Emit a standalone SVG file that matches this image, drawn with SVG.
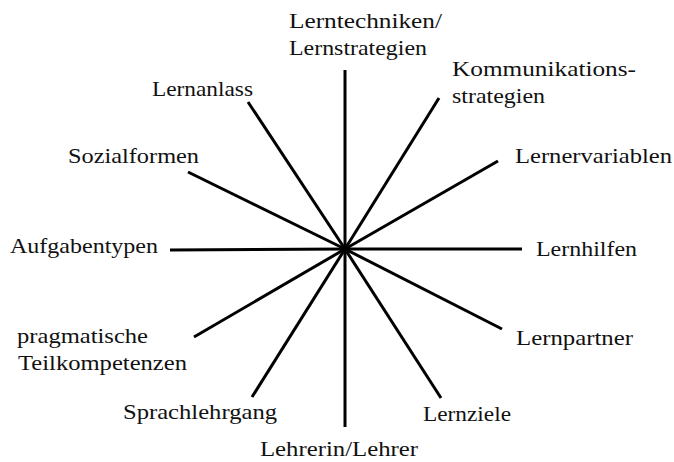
<svg xmlns="http://www.w3.org/2000/svg" width="674" height="462" viewBox="0 0 674 462">
<style>
.lbl{font-family:"Liberation Serif","DejaVu Serif",serif;font-size:21px;fill:#111;}
.ray{stroke:#000;stroke-width:3;stroke-linecap:butt;fill:none;}
</style>
<rect width="674" height="462" fill="#fff"/>
<g id="connectors">
<line class="ray" x1="345" y1="249" x2="345" y2="70"/>
<line class="ray" x1="345" y1="249" x2="439" y2="98"/>
<line class="ray" x1="345" y1="249" x2="498" y2="161"/>
<line class="ray" x1="345" y1="249" x2="522" y2="249"/>
<line class="ray" x1="345" y1="249" x2="502" y2="329"/>
<line class="ray" x1="345" y1="249" x2="441" y2="398"/>
<line class="ray" x1="345" y1="249" x2="345" y2="427"/>
<line class="ray" x1="345" y1="249" x2="252" y2="397"/>
<line class="ray" x1="345" y1="249" x2="194" y2="337"/>
<line class="ray" x1="345" y1="249" x2="170" y2="250"/>
<line class="ray" x1="345" y1="249" x2="188" y2="172"/>
<line class="ray" x1="345" y1="249" x2="248" y2="102"/>
</g>
<g id="lerntechniken"><text class="lbl" x="289" y="28" textLength="153" lengthAdjust="spacingAndGlyphs">Lerntechniken/</text><text class="lbl" x="289" y="55" textLength="138" lengthAdjust="spacingAndGlyphs">Lernstrategien</text></g>
<g id="kommunikationsstrategien"><text class="lbl" x="452" y="76" textLength="184" lengthAdjust="spacingAndGlyphs">Kommunikations-</text><text class="lbl" x="452" y="103" textLength="93" lengthAdjust="spacingAndGlyphs">strategien</text></g>
<g id="lernervariablen"><text class="lbl" x="515" y="163" textLength="157" lengthAdjust="spacingAndGlyphs">Lernervariablen</text></g>
<g id="lernhilfen"><text class="lbl" x="536" y="256" textLength="101" lengthAdjust="spacingAndGlyphs">Lernhilfen</text></g>
<g id="lernpartner"><text class="lbl" x="516" y="345" textLength="117" lengthAdjust="spacingAndGlyphs">Lernpartner</text></g>
<g id="lernziele"><text class="lbl" x="423" y="421" textLength="88" lengthAdjust="spacingAndGlyphs">Lernziele</text></g>
<g id="lehrer"><text class="lbl" x="260" y="456" textLength="158" lengthAdjust="spacingAndGlyphs">Lehrerin/Lehrer</text></g>
<g id="sprachlehrgang"><text class="lbl" x="123" y="419" textLength="154" lengthAdjust="spacingAndGlyphs">Sprachlehrgang</text></g>
<g id="pragmatische"><text class="lbl" x="17" y="343" textLength="131" lengthAdjust="spacingAndGlyphs">pragmatische</text><text class="lbl" x="18" y="370" textLength="169" lengthAdjust="spacingAndGlyphs">Teilkompetenzen</text></g>
<g id="aufgabentypen"><text class="lbl" x="10" y="253" textLength="148" lengthAdjust="spacingAndGlyphs">Aufgabentypen</text></g>
<g id="sozialformen"><text class="lbl" x="68" y="163" textLength="131" lengthAdjust="spacingAndGlyphs">Sozialformen</text></g>
<g id="lernanlass"><text class="lbl" x="152" y="96" textLength="101" lengthAdjust="spacingAndGlyphs">Lernanlass</text></g>
</svg>
